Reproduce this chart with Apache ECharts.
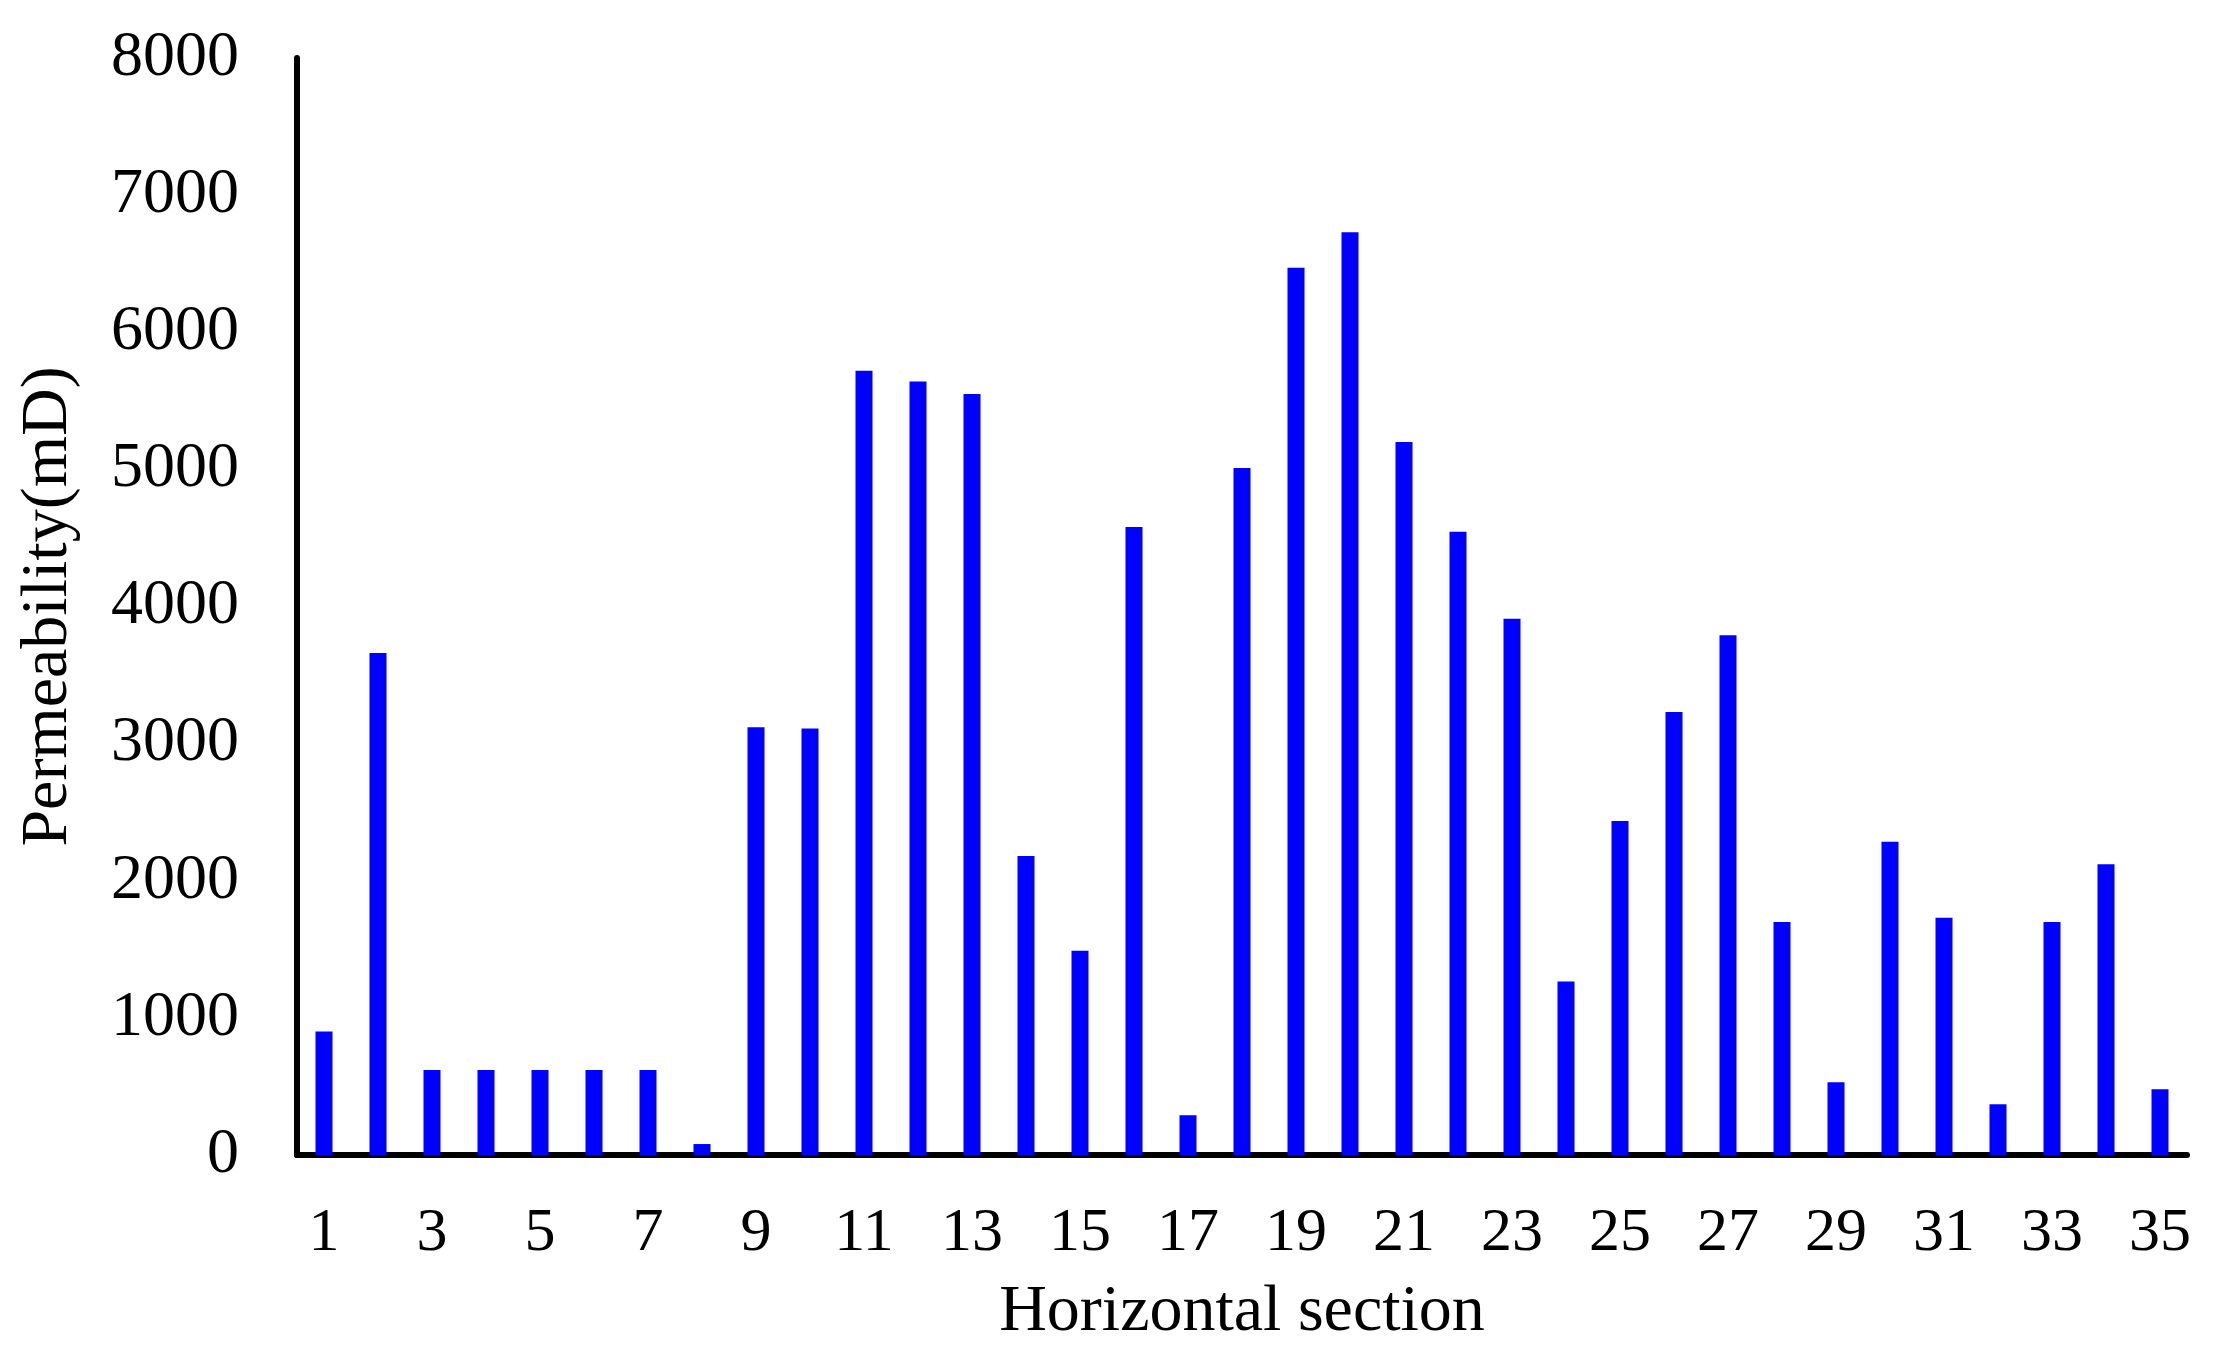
<!DOCTYPE html>
<html>
<head>
<meta charset="utf-8">
<script src="https://cdn.jsdelivr.net/npm/echarts@6/dist/echarts.min.js"></script>
<style>
html,body{margin:0;padding:0;background:#fff;}
#chart{width:2220px;height:1356px;}
</style>
</head>
<body>
<div id="chart"></div>
<script>
const categories = Array.from({length: 35}, (_, i) => String(i + 1));
const permeability = [900, 3660, 620, 620, 620, 620, 620, 80, 3120, 3110,
  5720, 5640, 5550, 2180, 1490, 4580, 290, 5010, 6470, 6730,
  5200, 4545, 3910, 1265, 2435, 3230, 3790, 1700, 530, 2285,
  1730, 370, 1700, 2120, 480];
const yTicks = { min: 0, max: 8000, interval: 1000 };
const xName = 'Horizontal section';
const yName = 'Permeability(mD)';

const font = '"Liberation Serif", "Times New Roman", serif';
const chart = echarts.init(document.getElementById('chart'));
chart.setOption({
  animation: false,
  backgroundColor: '#ffffff',
  grid: { left: 297, right: 33, top: 58, bottom: 201 },
  xAxis: {
    type: 'category',
    data: categories,
    name: xName,
    nameLocation: 'middle',
    nameGap: 125,
    nameTextStyle: { fontFamily: font, fontSize: 66, color: '#000' },
    axisLine: { lineStyle: { color: '#000', width: 6 } },
    axisTick: { show: false },
    axisLabel: { interval: 1, margin: 48, fontFamily: font, fontSize: 62, color: '#000' }
  },
  yAxis: {
    type: 'value',
    min: yTicks.min, max: yTicks.max, interval: yTicks.interval,
    name: yName,
    nameLocation: 'middle',
    nameGap: 215,
    nameTextStyle: { fontFamily: font, fontSize: 66, color: '#000' },
    axisLine: { show: true, lineStyle: { color: '#000', width: 6 } },
    axisTick: { show: false },
    splitLine: { show: false },
    axisLabel: { margin: 58, fontFamily: font, fontSize: 64, color: '#000',
      formatter: v => String(v) }
  },
  series: [{
    type: 'bar',
    data: permeability,
    barWidth: 17,
    itemStyle: { color: '#0000FF' }
  }]
});
</script>
</body>
</html>
